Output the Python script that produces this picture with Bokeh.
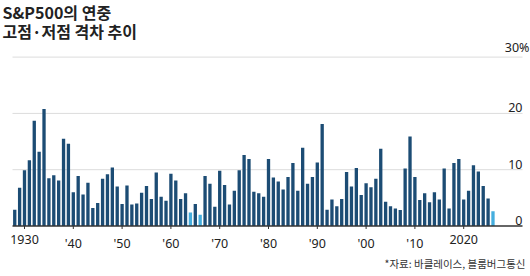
from bokeh.plotting import figure
from bokeh.models import ColumnDataSource, Label
from bokeh.core.properties import value
from bokeh.embed import file_html
from bokeh.resources import INLINE

# ---- data ----
first_year = 1928
spread_pct = [
    2.9, 6.8,
    9.9, 11.7, 18.7, 13.2, 20.8, 8.5, 9.0, 8.1, 15.5, 14.6,
    6.0, 8.9, 5.6, 7.7, 3.2, 4.1, 8.4, 9.2, 10.4, 7.0,
    3.9, 7.2, 3.8, 4.0, 5.9, 7.1, 4.8, 9.5, 5.2, 4.5,
    9.3, 8.1, 4.8, 5.8, 2.4, 3.9, 2.0, 8.9, 7.5, 3.4,
    9.8, 7.3, 3.8, 6.25, 9.9, 12.6, 11.9, 6.1, 5.8, 5.2,
    11.9, 8.6, 7.9, 6.5, 8.7, 11.2, 6.25, 13.9, 7.5, 8.7,
    11.3, 18.1, 2.9, 4.7, 3.5, 4.8, 9.6, 7.0, 10.3, 5.5,
    7.6, 6.9, 8.4, 13.7, 4.3, 3.5, 3.1, 2.85, 10.2, 15.9,
    8.7, 4.6, 5.8, 4.2, 6.0, 4.7, 10.2, 3.1, 11.2, 11.9,
    4.7, 6.25, 10.8, 9.7, 7.1, 4.9, 2.6,
]
years = list(range(first_year, first_year + len(spread_pct)))
highlight_years = [1964, 1966, 2026]

x_ticks = [1930, 1940, 1950, 1960, 1970, 1980, 1990, 2000, 2010, 2020]
x_tick_labels = ["1930", "'40", "'50", "'60", "'70", "'80", "'90", "'00", "'10", "2020"]
y_ticks = [0, 10, 20]
y_tick_labels = ["0", "10", "20"]
y_top_tick = 30
y_top_label = "30%"

title_lines = ["S&P500의 연중", "고점·저점 격차 추이"]
source_text = "*자료: 바클레이스, 블룸버그통신"

# ---- styling ----
W, H = 530, 276
DARK = "#1c4c74"
LIGHT = "#45aede"
TEXT = "#222222"
GRID = "#dcdcdc"

px_per_year = 4.88
px_per_pct = 5.63
x0 = 1930 - 24.0 / px_per_year
x1 = x0 + W / px_per_year
y0 = -50.5 / px_per_pct
y1 = y0 + H / px_per_pct
grid_left = x0 + 12 / px_per_year
grid_right = x0 + 522 / px_per_year
pct_label_x = x0 + 529 / px_per_year

p = figure(width=W, height=H, x_range=(x0, x1), y_range=(y0, y1),
           x_axis_type=None, y_axis_type=None, toolbar_location=None,
           output_backend="svg", min_border=0, outline_line_color=None,
           background_fill_color="white", border_fill_color="white")
p.grid.visible = False

# gridlines
grid_vals = y_ticks[1:] + [y_top_tick]
p.segment(x0=[grid_left] * len(grid_vals), x1=[grid_right] * len(grid_vals),
          y0=grid_vals, y1=grid_vals, line_color=GRID, line_width=1)

# bars
colors = [LIGHT if y in highlight_years else DARK for y in years]
src = ColumnDataSource(dict(x=years, top=spread_pct, color=colors))
p.vbar(x="x", top="top", bottom=0, width=0.68, fill_color="color", line_color=None, source=src)

# baseline
p.segment(x0=[grid_left], x1=[grid_right], y0=[0], y1=[0], line_color="#333333", line_width=1.3)
# x ticks
tick_len = 3 / px_per_pct
p.segment(x0=x_ticks, x1=x_ticks, y0=[0] * len(x_ticks), y1=[-tick_len] * len(x_ticks),
          line_color="#333333", line_width=1)

# x tick labels
p.text(x=x_ticks, y=[0] * len(x_ticks), text=x_tick_labels, text_align="center",
       text_baseline="top", y_offset=9, text_font=value("Noto Sans"),
       text_font_size="12.5px", text_color=TEXT)

# y tick labels (right, above gridlines)
p.text(x=[grid_right] * len(y_ticks), y=y_ticks, text=y_tick_labels, text_align="right",
       text_baseline="bottom", y_offset=-1, text_font=value("Noto Sans"),
       text_font_size="12.5px", text_color=TEXT)
p.text(x=[pct_label_x], y=[y_top_tick], text=[y_top_label], text_align="right",
       text_baseline="bottom", y_offset=-1, text_font=value("Noto Sans"),
       text_font_size="12.5px", text_color=TEXT)

# title
for i, line in enumerate(title_lines):
    p.add_layout(Label(x=2, y=H + 1 - i * 19, x_units="screen", y_units="screen",
                       text=line, text_align="left", text_baseline="top",
                       text_font="Noto Sans CJK KR", text_font_style="bold",
                       text_font_size="16px", text_color=TEXT))

# source
p.add_layout(Label(x=525, y=21, x_units="screen", y_units="screen",
                   text=source_text, text_align="right", text_baseline="top",
                   text_font="Noto Sans CJK KR", text_font_size="10.5px",
                   text_color="#333333"))

open("out.html", "w").write(file_html(p, INLINE))
